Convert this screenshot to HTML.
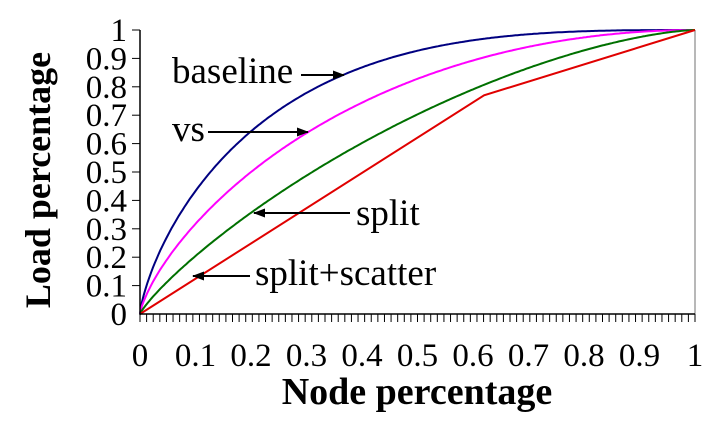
<!DOCTYPE html>
<html><head><style>body{margin:0;background:#fff}svg{display:block}</style></head>
<body>
<svg id="s" width="722" height="421" xmlns="http://www.w3.org/2000/svg" font-family="Liberation Serif, serif">
<defs><marker id="a" markerWidth="12" markerHeight="9" refX="11" refY="4.5" orient="auto" markerUnits="userSpaceOnUse"><path d="M0,0 L12,4.5 L0,9 z" fill="#000"/></marker></defs>
<line x1="695" y1="30" x2="695" y2="314" stroke="#888" stroke-width="1.2"/>
<g id="g"></g>
<line x1="140" y1="30" x2="140" y2="315" stroke="#000" stroke-width="1.5"/>
<line x1="140" y1="314" x2="695" y2="314" stroke="#000" stroke-width="1.5"/>
<g font-size="33" text-anchor="end" id="yl"></g>
<g font-size="33" text-anchor="middle" id="xl"></g>
<text x="417" y="404" font-size="38" font-weight="bold" text-anchor="middle">Node percentage</text>
<text transform="translate(50,180) rotate(-90)" font-size="36" font-weight="bold" text-anchor="middle">Load percentage</text>
<g font-size="37">
<text x="172" y="83">baseline</text>
<text x="172" y="141">vs</text>
<text x="356" y="225">split</text>
<text x="255" y="285">split+scatter</text>
</g>
<g stroke="#000" stroke-width="2" marker-end="url(#a)">
<line x1="301" y1="75" x2="344" y2="75"/>
<line x1="208" y1="132" x2="308" y2="132"/>
<line x1="350" y1="213" x2="254" y2="213"/>
<line x1="250" y1="276" x2="193" y2="276"/>
</g>
</svg>
<script>
var X0=140,X1=695,Y0=314,Y1=30;
function px(x){return X0+x*(X1-X0)}function py(y){return Y0-y*(Y0-Y1)}
var g=document.getElementById('g'),h='';
for(var i=0;i<=84;i++){var x=X0+i*(X1-X0)/84;h+='<line x1="'+x+'" y1="314" x2="'+x+'" y2="322" stroke="#000" stroke-width="1"/>';}
for(var i=1;i<=10;i++){h+='<line x1="140" y1="'+py(i/10)+'" x2="132" y2="'+py(i/10)+'" stroke="#000" stroke-width="1"/>';}
function curve(f,c){var d='';for(var i=0;i<=300;i++){var x=i/300;d+=(i?'L':'M')+px(x).toFixed(1)+','+py(f(x)).toFixed(1);}return '<path d="'+d+'" fill="none" stroke="'+c+'" stroke-width="2"/>';}
h+=curve(function(x){return 1-Math.pow(1-Math.pow(x,0.75),2.9)},'#000080');
h+=curve(function(x){return 1-Math.pow(1-Math.pow(x,0.75),1.95)},'#ff00ff');
h+=curve(function(x){return 1-Math.pow(1-Math.pow(x,0.85),1.5)},'#007000');
h+='<path d="M'+px(0)+','+py(0)+'L'+px(0.62)+','+py(0.77)+'L'+px(1)+','+py(1)+'" fill="none" stroke="#e00000" stroke-width="2"/>';
g.innerHTML=h;
var yl='',xl='';
for(var i=0;i<=10;i++){var t=i==0?'0':i==10?'1':'0.'+i;yl+='<text x="127" y="'+(py(i/10)+11)+'">'+t+'</text>';xl+='<text x="'+px(i/10)+'" y="366">'+t+'</text>';}
document.getElementById('yl').innerHTML=yl;document.getElementById('xl').innerHTML=xl;
</script>
</body></html>
